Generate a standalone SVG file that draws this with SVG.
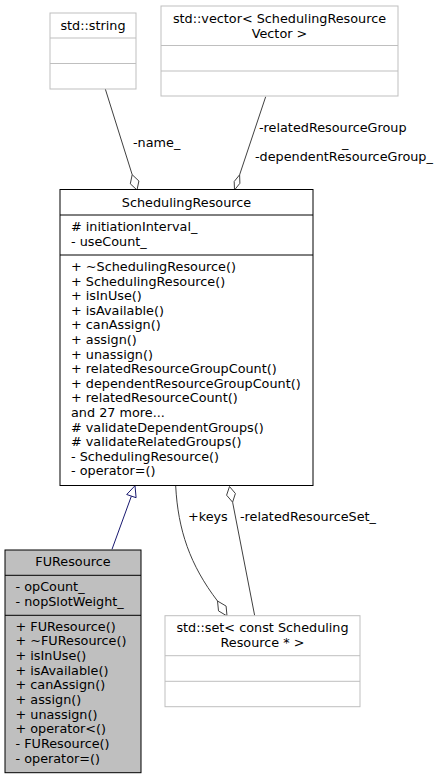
<svg xmlns="http://www.w3.org/2000/svg" width="441" height="779" viewBox="0 0 441 779">
<style>
text{font-family:"DejaVu Sans","Liberation Sans",sans-serif;font-size:12.8px;fill:#000}
.c{text-anchor:middle}
.ext{fill:#fff;stroke:#bfbfbf;stroke-width:1}
.extl{stroke:#bfbfbf;stroke-width:1}
.cls{fill:#fff;stroke:#000;stroke-width:1}
.clsl{stroke:#000;stroke-width:1}
.cur{fill:#bfbfbf;stroke:#000;stroke-width:1}
.edge{fill:none;stroke:#404040;stroke-width:1}
.dia{fill:#fff;stroke:#404040;stroke-width:1}
.inh{fill:none;stroke:#191970;stroke-width:1}
.tri{fill:#fff;stroke:#191970;stroke-width:1}
</style>
<g id="connectors">
<path class="edge" d="M105.3,89 L132.2,174.7"/>
<polygon class="dia" points="137,190 138.9,181 132.2,174.7 130.3,183.8"/>
<text x="133" y="147">-name_</text>
<path class="edge" d="M265.7,96.7 L239.6,174.8"/>
<polygon class="dia" points="234.5,190 239.9,183.3 239.6,174.8 234.2,181.5"/>
<text x="259" y="132">-relatedResourceGroup</text>
<text x="342" y="146.5">_</text>
<text x="255" y="161">-dependentResourceGroup_</text>
<path class="inh" d="M112,549.3 L131.4,496.1"/>
<polygon class="tri" points="135,485.7 136.1,497.7 126.7,494.5"/>
<path class="edge" d="M175.7,486 C178,530 190,565 217.5,601"/>
<polygon class="dia" points="227,616 226.1,606.1 217.5,601 218.5,610.9"/>
<text x="188" y="521">+keys</text>
<path class="edge" d="M254.7,615.7 L232.6,502.2"/>
<polygon class="dia" points="229.5,486.5 226.6,495.2 232.6,502.2 235.4,493.5"/>
<text x="240" y="521">-relatedResourceSet_</text>
</g>
<g id="node-std-string">
<rect class="ext" x="50" y="13" width="86" height="76"/>
<line class="extl" x1="50" y1="38" x2="136" y2="38"/>
<line class="extl" x1="50" y1="63.5" x2="136" y2="63.5"/>
<text class="c" x="93" y="29.5">std::string</text>
</g>
<g id="node-std-vector">
<rect class="ext" x="161" y="6" width="237" height="90"/>
<line class="extl" x1="161" y1="45.5" x2="398" y2="45.5"/>
<line class="extl" x1="161" y1="71" x2="398" y2="71"/>
<text class="c" x="279.5" y="22.5">std::vector&lt; SchedulingResource</text>
<text class="c" x="279.5" y="37.5">Vector &gt;</text>
</g>
<g id="node-SchedulingResource">
<rect class="cls" x="60" y="189.5" width="253" height="296"/>
<line class="clsl" x1="60" y1="215" x2="313" y2="215"/>
<line class="clsl" x1="60" y1="255" x2="313" y2="255"/>
<text class="c" x="186.5" y="206.5">SchedulingResource</text>
<text x="71" y="231"># initiationInterval_</text>
<text x="71" y="246">- useCount_</text>
<text x="71" y="271">+ ~SchedulingResource()</text>
<text x="71" y="285.6">+ SchedulingResource()</text>
<text x="71" y="300.2">+ isInUse()</text>
<text x="71" y="314.8">+ isAvailable()</text>
<text x="71" y="329.4">+ canAssign()</text>
<text x="71" y="344">+ assign()</text>
<text x="71" y="358.6">+ unassign()</text>
<text x="71" y="373.2">+ relatedResourceGroupCount()</text>
<text x="71" y="387.8">+ dependentResourceGroupCount()</text>
<text x="71" y="402.4">+ relatedResourceCount()</text>
<text x="71" y="417">and 27 more...</text>
<text x="71" y="431.6"># validateDependentGroups()</text>
<text x="71" y="446.2"># validateRelatedGroups()</text>
<text x="71" y="460.8">- SchedulingResource()</text>
<text x="71" y="475.4">- operator=()</text>
</g>
<g id="node-FUResource">
<rect class="cur" x="5" y="550" width="136" height="222.7"/>
<line class="clsl" x1="5" y1="575.3" x2="141" y2="575.3"/>
<line class="clsl" x1="5" y1="615.3" x2="141" y2="615.3"/>
<text class="c" x="73" y="566">FUResource</text>
<text x="15.5" y="591">- opCount_</text>
<text x="15.5" y="606">- nopSlotWeight_</text>
<text x="15.5" y="630.5">+ FUResource()</text>
<text x="15.5" y="645.2">+ ~FUResource()</text>
<text x="15.5" y="659.9">+ isInUse()</text>
<text x="15.5" y="674.6">+ isAvailable()</text>
<text x="15.5" y="689.3">+ canAssign()</text>
<text x="15.5" y="704">+ assign()</text>
<text x="15.5" y="718.7">+ unassign()</text>
<text x="15.5" y="733.4">+ operator&lt;()</text>
<text x="15.5" y="748.1">- FUResource()</text>
<text x="15.5" y="762.8">- operator=()</text>
</g>
<g id="node-std-set">
<rect class="ext" x="165" y="615.7" width="195" height="91"/>
<line class="extl" x1="165" y1="655.7" x2="360" y2="655.7"/>
<line class="extl" x1="165" y1="681.3" x2="360" y2="681.3"/>
<text class="c" x="262.5" y="631.5">std::set&lt; const Scheduling</text>
<text class="c" x="262.5" y="646.5">Resource * &gt;</text>
</g>
</svg>
